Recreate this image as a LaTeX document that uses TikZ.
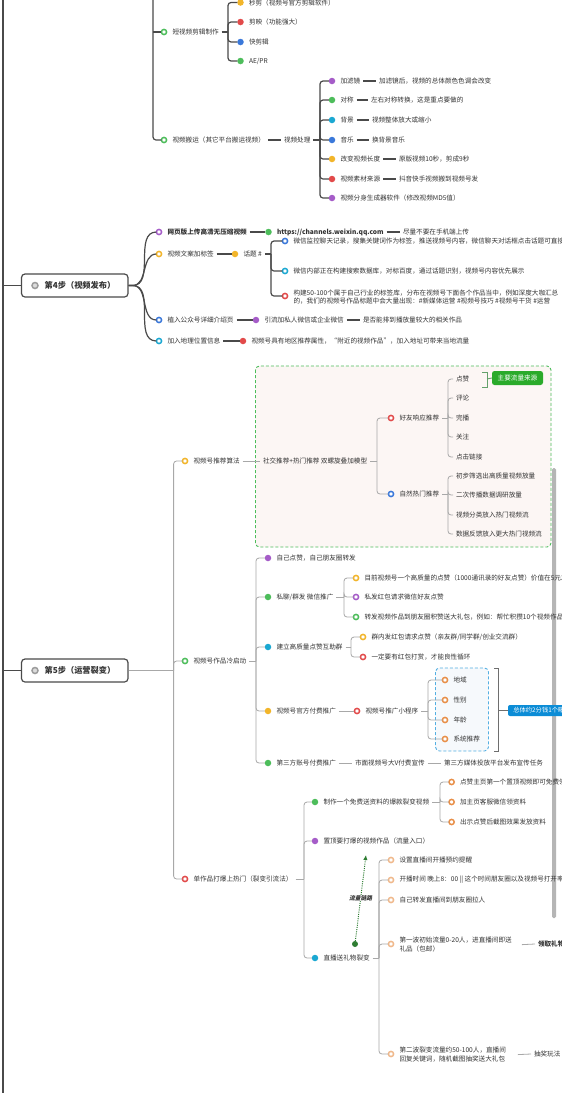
\documentclass[tikz,border=0pt]{standalone}
\usepackage{fontspec}
\setmainfont{Noto Sans CJK SC}
\newfontfamily\slfont{Noto Sans CJK SC}[FakeSlant=0.22]
\usetikzlibrary{arrows.meta,calc}
\definecolor{dk}{HTML}{4A4A4A}
\definecolor{lt}{HTML}{A8A8A8}
\definecolor{tx}{HTML}{333333}
\definecolor{cpur}{HTML}{A55CC8}
\definecolor{cgrn}{HTML}{4DBD5B}
\definecolor{ccya}{HTML}{1BA8D2}
\definecolor{cblu}{HTML}{3A78DA}
\definecolor{cyel}{HTML}{F2B52A}
\definecolor{cred}{HTML}{E24A4A}
\definecolor{cora}{HTML}{E88F48}
\definecolor{clor}{HTML}{F0B98C}
\definecolor{cgry}{HTML}{9C9C9C}
\definecolor{fgreen}{HTML}{2AAA2A}
\definecolor{fblue}{HTML}{0B8CD6}
\definecolor{dgreen}{HTML}{2E7D32}
\definecolor{pinkbg}{HTML}{FCF6F4}
\definecolor{bluebg}{HTML}{F6F9FC}
\tikzset{
  txt/.style={anchor=west, inner xsep=3pt, inner ysep=1pt, outer sep=0pt, font=\fontsize{6.6}{9}\selectfont, text=tx},
  btxt/.style={txt, font=\fontsize{6.6}{9}\selectfont\bfseries},
  dotn/.style={circle, fill=#1, minimum size=6.5pt, inner sep=0pt, outer sep=0pt},
  ringn/.style={circle, draw=#1, fill=white, line width=1.5pt, minimum size=5.2pt, inner sep=0pt, outer sep=0pt},
  dkl/.style={draw=dk, line width=1.2pt},
  ltl/.style={draw=lt, line width=0.8pt},
  stepbox/.style={draw=dk, line width=1.2pt, rounded corners=3.5pt, fill=white, minimum width=106.5pt, minimum height=23pt, inner sep=0pt},
  steptxt/.style={anchor=west, inner sep=0pt, font=\fontsize{8.2}{10}\selectfont\bfseries, text=tx},
  gbox/.style={fill=fgreen, rounded corners=2.5pt, minimum width=51pt, minimum height=14pt, inner sep=0pt, text=white, font=\fontsize{6.6}{8}\selectfont},
  bbox/.style={fill=fblue, rounded corners=2pt, minimum width=68pt, minimum height=11pt, inner sep=0pt, text=white, font=\fontsize{6.3}{8}\selectfont},
  dashbox/.style={line width=0.9pt, dash pattern=on 3pt off 2pt, rounded corners=4pt},
}
\newcommand\mDot[5]{\node[dotn=#4] (#1) at (#2,#3) {}; \node[txt] (#1t) at (#2+5.5,#3) {#5};}
\newcommand\mRing[5]{\node[ringn=#4] (#1) at (#2,#3) {}; \node[txt] (#1t) at (#2+5.5,#3) {#5};}
\newcommand\mTxt[4]{\node[txt] (#1) at (#2,#3) {#4};}
\newcommand\mBrk[4][dkl]{\path let \p1=(#2.east) in coordinate (bk) at (#3pt,\y1);
  \draw[#1] (#2.east) -- (bk);
  \foreach \cc in {#4} {\draw[#1, rounded corners=3pt] (bk) |- (\cc.west);}}
\begin{document}
\begin{tikzpicture}[x=1pt,y=-1pt]
\useasboundingbox (0,0) rectangle (562,1093);
\fill[white] (0,0) rectangle (562,1093);
\clip (0,0) rectangle (562,1093);

% dashed group boxes and scrollbar
\draw[dashbox, draw=cgrn, fill=pinkbg] (255.5,366) rectangle (551,547);
\draw[dashbox, draw=fblue!70, fill=bluebg] (435.5,668) rectangle (488.5,751);
\fill[cgry!75, rounded corners=1.5pt] (552,468) rectangle (556,918);

% main left line
\draw[draw=dk, line width=1.5pt] (3,-2) -- (3,1095);

% ================= TOP =================
\mRing{r01}{164}{32}{cgrn}{短视频剪辑制作}
\mRing{r02}{164}{140}{cgrn}{视频搬运（其它平台搬运视频）}
\coordinate (tv) at (153,-5);
\coordinate (tv1) at (153,32);
\draw[dkl, rounded corners=3pt] (tv) |- (r02.west);
\draw[dkl] (tv1) -- (r01.west);
\mDot{a1}{240.5}{2.5}{cyel}{秒剪（视频号官方剪辑软件）}
\mDot{a2}{240.5}{22}{cred}{剪映（功能强大）}
\mDot{a3}{240.5}{42}{cblu}{快剪辑}
\mDot{a4}{240.5}{61}{cgrn}{AE/PR}
\mBrk{r01t}{228}{a1,a2,a3,a4}
\mTxt{vp}{281}{140}{视频处理}
\draw[dkl] (r02t.east) -- (vp.west);
\mDot{b1}{332}{81}{cpur}{加滤镜}
\mDot{b2}{332}{100}{cgrn}{对称}
\mDot{b3}{332}{120}{ccya}{背景}
\mDot{b4}{332}{140}{cblu}{音乐}
\mDot{b5}{332}{159}{cyel}{改变视频长度}
\mDot{b6}{332}{179}{cred}{视频素材来源}
\mDot{b7}{332}{198}{cpur}{视频分身生成器软件（修改视频MD5值）}
\mBrk{vp}{320}{b1,b2,b3,b4,b5,b6,b7}
\mTxt{b1x}{376}{81}{加滤镜后，视频的总体颜色色调会改变}
\mTxt{b2x}{368}{100}{左右对称转换，这是重点要做的}
\mTxt{b3x}{369}{120}{视频整体放大或缩小}
\mTxt{b4x}{369}{140}{换背景音乐}
\mTxt{b5x}{396}{159}{原版视频10秒，剪成9秒}
\mTxt{b6x}{396}{179}{抖音快手视频搬到视频号发}
\foreach \i in {1,...,6} {\draw[dkl] (b\i t.east) -- (b\i x.west);}

% ================= STEP 4 =================
\node[stepbox] (s4) at (74.75,285.5) {};
\node[ringn=cgry, fill=cgry!35, minimum size=6pt] (s4i) at (35,285.5) {};
\node[steptxt] (s4t) at (44.5,285.5) {第4步（视频发布）};
\coordinate (l4) at (3,285.5);
\draw[dkl] (l4) -- (s4.west);

\node[ringn=cpur] (r41) at (159,232) {};
\node[btxt] (r41t) at (164.5,232) {网页版上传高清无压缩视频};
\mRing{r42}{159}{254}{cyel}{视频文案加标签}
\mRing{r43}{159}{320}{cblu}{植入公众号详细介绍页}
\mRing{r44}{159}{341}{ccya}{加入地理位置信息}
\foreach \cc in {r41,r42,r43,r44} {\draw[dkl] (s4.east) -- ++(4,0) to[out=0,in=180] (\cc.west);}

\node[dotn=cgrn] (g41) at (268.5,232) {};
\node[btxt] (g41t) at (274,232) {https://channels.weixin.qq.com};
\mTxt{g41x}{400}{232}{尽量不要在手机端上传}
\draw[dkl] (r41t.east) -- (g41.west);
\draw[dkl] (g41t.east) -- (g41x.west);

\mDot{g42}{235}{254}{cyel}{话题 \#}
\draw[dkl] (r42t.east) -- (g42.west);
\mRing{h1}{285}{241}{cblu}{微信监控聊天记录，搜集关键词作为标签，推送视频号内容，微信聊天对话框点击话题可直接进入}
\mRing{h2}{285}{271}{ccya}{微信内部正在构建搜索数据库，对标百度，通过话题识别，视频号内容优先展示}
\node[ringn=cred] (h3) at (285,296) {};
\node[txt, align=left, font=\fontsize{6.6}{8.8}\selectfont] (h3t) at (290.5,297) {构建50-100个属于自己行业的标签库，分布在视频号下面各个作品当中，例如深度大咖汇总\\的，我们的视频号作品标题中会大量出现：\#新媒体运营 \#视频号技巧 \#视频号干货 \#运营};
\mBrk{g42t}{271}{h1,h2,h3}

\mDot{g43}{256}{320}{cpur}{引流加私人微信或企业微信}
\mTxt{g43x}{360}{320}{是否能排到播放量较大的相关作品}
\draw[dkl] (r43t.east) -- (g43.west);
\draw[dkl] (g43t.east) -- (g43x.west);

\mDot{g44}{243}{341}{cred}{视频号具有地区推荐属性，“附近的视频作品”，加入地址可带来当地流量}
\draw[dkl] (r44t.east) -- (g44.west);

% ================= STEP 5 =================
\node[stepbox] (s5) at (74.75,670.5) {};
\node[ringn=cgry, fill=cgry!35, minimum size=6pt] (s5i) at (35,670.5) {};
\node[steptxt] (s5t) at (44.5,670.5) {第5步（运营裂变）};
\coordinate (l5) at (3,670.5);
\draw[dkl] (l5) -- (s5.west);

\mRing{r51}{185}{461}{cyel}{视频号推荐算法}
\mRing{r52}{185}{661}{cgrn}{视频号作品冷启动}
\mRing{r53}{185}{879}{cred}{单作品打爆上热门（裂变引流法）}
\draw[ltl] (s5.east) -- ++(45,0) coordinate (v5);
\foreach \cc in {r51,r52,r53} {\draw[ltl, rounded corners=3pt] (v5) |- (\cc.west);}

% recommendation algorithm
\mTxt{sx}{260}{461}{社交推荐+热门推荐 双螺旋叠加模型}
\draw[ltl] (r51t.east) -- (sx.west);
\mRing{q1}{391}{418}{cred}{好友响应推荐}
\mRing{q2}{391}{494}{cblu}{自然热门推荐}
\mBrk[ltl]{sx}{377}{q1,q2}
\mTxt{p1}{453}{379}{点赞}
\mTxt{p2}{453}{398}{评论}
\mTxt{p3}{453}{418}{完播}
\mTxt{p4}{453}{437}{关注}
\mTxt{p5}{453}{457}{点击链接}
\mBrk[ltl]{q1t}{448}{p1,p2,p3,p4,p5}
\mTxt{n1}{453}{476}{初步筛选出高质量视频放量}
\mTxt{n2}{453}{495}{二次传播数据调研放量}
\mTxt{n3}{453}{515}{视频分类放入热门视频流}
\mTxt{n4}{453}{534}{数据反馈放入更大热门视频流}
\mBrk[ltl]{q2t}{448}{n1,n2,n3,n4}
\draw[draw=cgrn!55!gray, line width=0.9pt] (482,372) -- (487,372) -- (487,387) -- (482,387);
\coordinate (gk) at (487,379);
\node[gbox] (gb) at (517.5,378) {主要流量来源};
\draw[draw=cgrn!55!gray, line width=0.9pt] (gk) -- (gb.west);

% cold start
\mDot{c1}{268}{558}{cpur}{自己点赞，自己朋友圈转发}
\mDot{c2}{268}{597}{cgrn}{私聊/群发 微信推广}
\mDot{c3}{268}{647}{ccya}{建立高质量点赞互助群}
\mDot{c4}{268}{711}{cyel}{视频号官方付费推广}
\mDot{c5}{268}{763}{cgrn}{第三方账号付费推广}
\mBrk[ltl]{r52t}{256}{c1,c2,c3,c4,c5}
\mRing{c21}{356}{578}{cyel}{目前视频号一个高质量的点赞（1000通讯录的好友点赞）价值在5元左右}
\mRing{c22}{356}{597}{cpur}{私发红包请求微信好友点赞}
\mRing{c23}{356}{617}{cgrn}{转发视频作品到朋友圈积赞送大礼包，例如：帮忙积攒10个视频作品点赞送资料}
\mBrk[ltl]{c2t}{344}{c21,c22,c23}
\mRing{c31}{363}{637}{cyel}{群内发红包请求点赞（亲友群/同学群/创业交流群）}
\mRing{c32}{363}{657}{cred}{一定要有红包打赏，才能良性循环}
\mBrk[ltl]{c3t}{351}{c31,c32}
\mRing{c41}{357}{711}{cred}{视频号推广小程序}
\draw[ltl] (c4t.east) -- (c41.west);
\mRing{k1}{445}{680}{cora}{地域}
\mRing{k2}{445}{700}{cora}{性别}
\mRing{k3}{445}{720}{cora}{年龄}
\mRing{k4}{445}{739}{cora}{系统推荐}
\mBrk[ltl]{c41t}{428}{k1,k2,k3,k4}
\draw[draw=dk!80, line width=0.9pt] (494,668) -- (498,668) -- (498,751) -- (494,751);
\coordinate (bk5) at (498,710.5);
\node[bbox] (bb) at (542,710.5) {总体约2分钱1个曝光};
\draw[draw=dk!80, line width=0.9pt] (bk5) -- (bb.west);
\mTxt{c51}{352}{763}{市面视频号大V付费宣传}
\mTxt{c52}{441}{763}{第三方媒体投放平台发布宣传任务}
\draw[ltl] (c5t.east) -- (c51.west);
\draw[ltl] (c51.east) -- (c52.west);

% single work hot
\mDot{d1}{315}{802}{cgrn}{制作一个免费送资料的爆款裂变视频}
\mDot{d2}{315}{841}{cpur}{置顶要打爆的视频作品（流量入口）}
\mDot{d3}{315}{958}{ccya}{直播送礼物裂变}
\mBrk[ltl]{r53t}{304}{d1,d2,d3}
\mRing{e1}{451.6}{782}{cora}{点赞主页第一个置顶视频即可免费领取资料}
\mRing{e2}{451.6}{802}{cora}{加主页客服微信领资料}
\mRing{e3}{451.6}{822}{cora}{出示点赞后截图效果发放资料}
\mBrk[ltl]{d1t}{440}{e1,e2,e3}
\mRing{f1}{391}{860}{clor}{设置直播间开播预约提醒}
\mRing{f2}{391}{880}{clor}{开播时间 晚上8：00 || 这个时间朋友圈以及视频号打开率最高}
\mRing{f3}{391}{900}{clor}{自己转发直播间到朋友圈拉人}
\node[ringn=clor] (f4) at (391,944) {};
\node[txt, align=left] (f4t) at (396.5,945) {第一波初始流量0-20人，进直播间即送\\礼品（包邮）};
\node[ringn=clor] (f5) at (391,1054) {};
\node[txt, align=left] (f5t) at (396.5,1055) {第二波裂变流量约50-100人，直播间\\回复关键词，随机截图抽奖送大礼包};
\mBrk[ltl]{d3t}{379}{f1,f2,f3,f4,f5}
\node[btxt] (f4x) at (535,944) {领取礼物条件};
\mTxt{f5x}{531}{1054}{抽奖玩法}
\draw[ltl, shorten <=7pt] (f4t.east) -- (f4x.west);
\draw[ltl, shorten <=9pt] (f5t.east) -- (f5x.west);

% traffic link arrow
\node[dotn=dgreen, minimum size=6pt] (fd) at (355,944) {};
\coordinate (fa) at (366,855);
\draw[dgreen, line width=1pt, dash pattern=on 1pt off 1.2pt, -{Latex[length=5pt,width=4.5pt]}] (fd) -- (fa)
  node[midway, fill=white, inner sep=0.6pt, font=\slfont\fontsize{5.8}{7}\selectfont\bfseries, text=tx] (fl) {流量链路};
\end{tikzpicture}
\end{document}
